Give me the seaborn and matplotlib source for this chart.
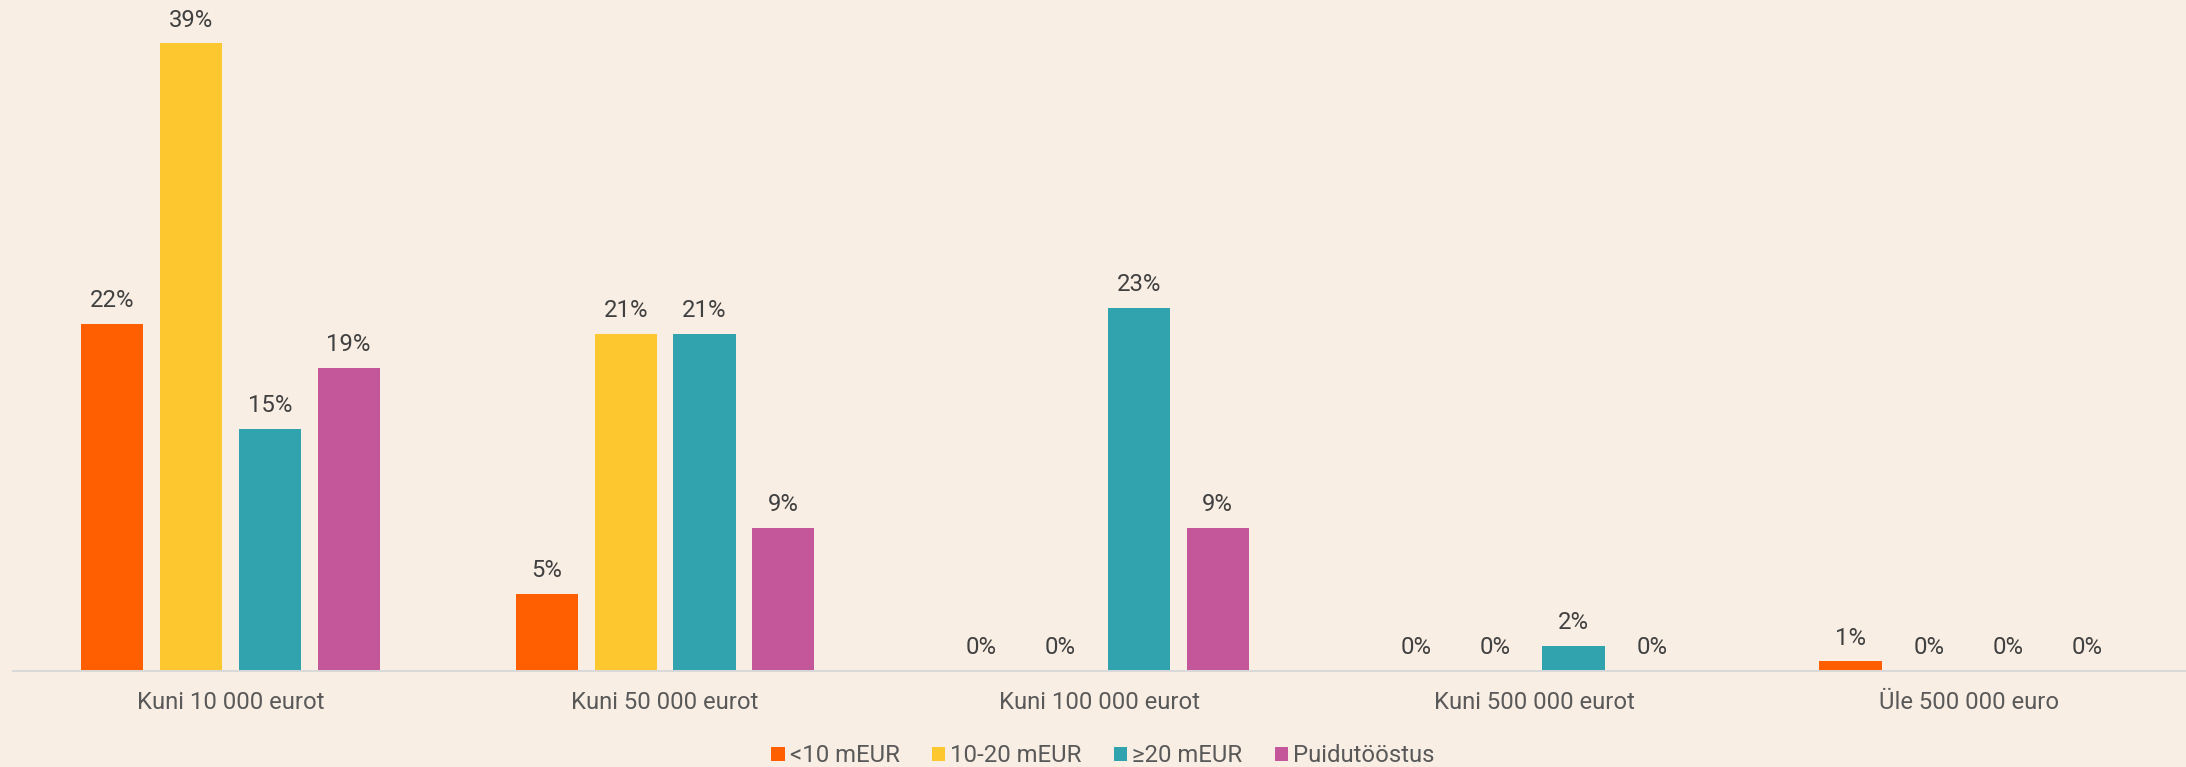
import pandas as pd
import matplotlib.pyplot as plt
import seaborn as sns

# andmed
categories = ['Kuni 10 000 eurot', 'Kuni 50 000 eurot', 'Kuni 100 000 eurot',
              'Kuni 500 000 eurot', 'Üle 500 000 euro']
series = ['<10 mEUR', '10-20 mEUR', '≥20 mEUR', 'Puidutööstus']
small = [21.6, 4.8, 0.0, 0.0, 0.6]
medium = [39.1, 21.0, 0.0, 0.0, 0.0]
large = [15.1, 21.0, 22.6, 1.55, 0.0]
wood = [18.9, 8.9, 8.9, 0.0, 0.0]
colors = ['#FF5F00', '#FDC82F', '#31A3AE', '#C45799']

values = {'<10 mEUR': small, '10-20 mEUR': medium, '≥20 mEUR': large, 'Puidutööstus': wood}
rows = []
for s in series:
    for c, v in zip(categories, values[s]):
        rows.append({'kategooria': c, 'grupp': s, 'osakaal': v})
df = pd.DataFrame(rows)

bg = '#F9EEE4'
fs = 17.2
sns.set_style('white')
plt.rcParams['font.family'] = ['Roboto', 'DejaVu Sans']

fig = plt.figure(figsize=(21.86, 7.67), dpi=100, facecolor=bg)
ax = fig.add_axes([13.25 / 2186, 96 / 767, 1 - 13.25 / 2186, 671 / 767])
ax.set_facecolor(bg)

sns.barplot(data=df, x='kategooria', y='osakaal', hue='grupp', order=categories,
            hue_order=series, palette=colors, width=0.725, gap=0.21,
            saturation=1, linewidth=0, ax=ax, legend=True)

for cont, s in zip(ax.containers, series):
    ax.bar_label(cont, labels=[f'{v:.0f}%' for v in values[s]], padding=8.5,
                 fontsize=fs, color='#404040')

ax.set_xlim(-0.5, 4.5)
ax.set_ylim(0, 41.8)
ax.set_xlabel('')
ax.set_ylabel('')
ax.set_yticks([])
ax.tick_params(axis='x', length=0, pad=14.5, labelsize=fs, labelcolor='#595959')
for side in ['left', 'right', 'top']:
    ax.spines[side].set_visible(False)
ax.spines['bottom'].set_color('#D9D9D9')
ax.spines['bottom'].set_linewidth(1.4)

handles, labels = ax.get_legend_handles_labels()
ax.get_legend().remove()
fig.legend(handles, labels, loc='center', bbox_to_anchor=(1103 / 2186, 11 / 767),
           ncol=4, frameon=False, fontsize=fs, labelcolor='#595959',
           handlelength=0.56, handleheight=0.56, handletextpad=0.21,
           columnspacing=1.35, borderaxespad=0, borderpad=0)

fig.savefig('out.png', dpi=100, facecolor=bg)
